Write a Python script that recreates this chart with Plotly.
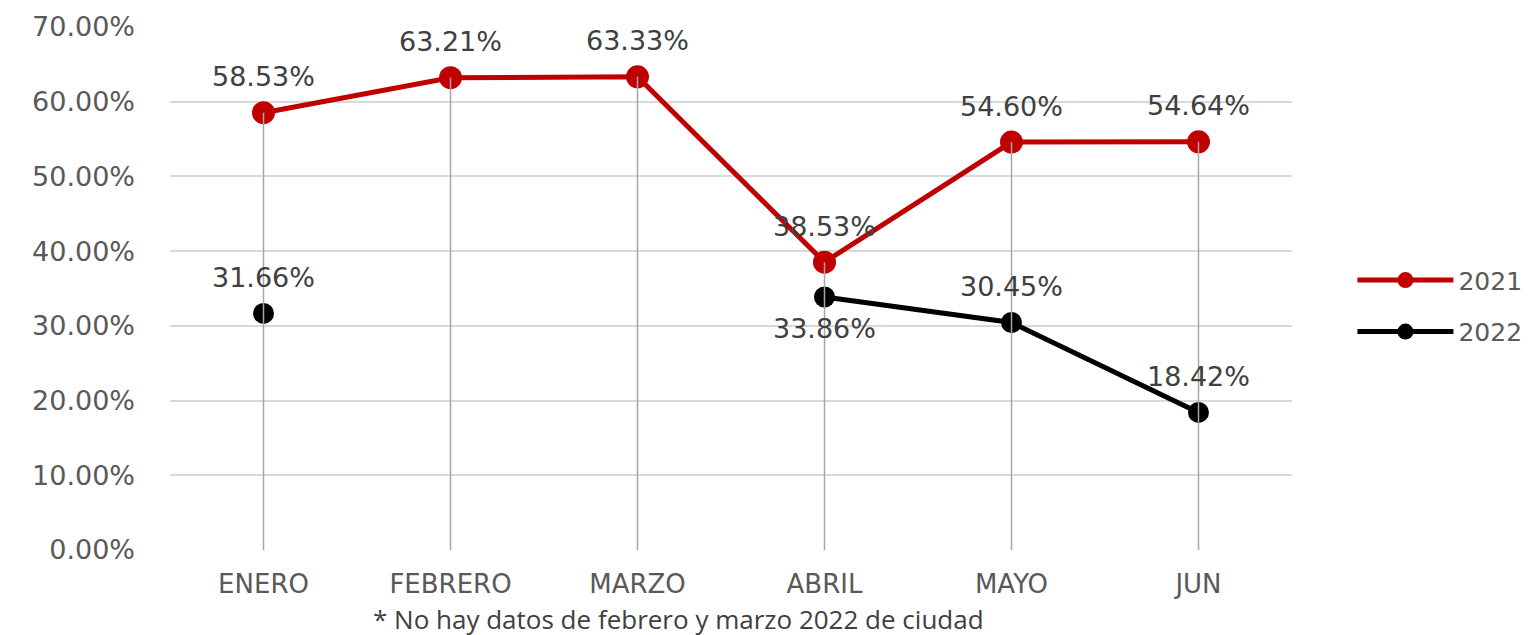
import plotly.graph_objects as go

months = ["ENERO", "FEBRERO", "MARZO", "ABRIL", "MAYO", "JUN"]
values_2021 = [0.5853, 0.6321, 0.6333, 0.3853, 0.5460, 0.5464]
values_2022 = [0.3166, None, None, 0.3386, 0.3045, 0.1842]
label_side_2022 = ["above", None, None, "below", "above", "above"]
footnote = "* No hay datos de febrero y marzo 2022 de ciudad"

RED = "#C00000"
BLACK = "#000000"
GRAY_TXT = "#595959"
FONT = "DejaVu Sans"
FS = 27

fig = go.Figure()

fig.add_trace(go.Scatter(
    x=months, y=values_2021, name="2021", mode="lines+markers",
    line=dict(color=RED, width=5), marker=dict(color=RED, size=23),
    legendgroup="a", hoverinfo="skip"))
fig.add_trace(go.Scatter(
    x=months, y=values_2022, name="2022", mode="lines+markers",
    line=dict(color=BLACK, width=5), marker=dict(color=BLACK, size=21),
    connectgaps=False, legendgroup="b", hoverinfo="skip"))

# drop lines from highest point to the axis
dx, dy = [], []
for m, a, b in zip(months, values_2021, values_2022):
    top = max(v for v in (a, b) if v is not None)
    dx += [m, m, None]
    dy += [0, top, None]
fig.add_trace(go.Scatter(x=dx, y=dy, mode="lines", showlegend=False,
                         line=dict(color="#A6A6A6", width=1.5), hoverinfo="skip"))

annotations = []
for m, v in zip(months, values_2021):
    annotations.append(dict(x=m, y=v, text=f"{v*100:.2f}%", showarrow=False,
                            yshift=36, font=dict(family=FONT, size=FS, color="#404040")))
for m, v, side in zip(months, values_2022, label_side_2022):
    if v is None:
        continue
    annotations.append(dict(x=m, y=v, text=f"{v*100:.2f}%", showarrow=False,
                            yshift=36 if side == "above" else -31,
                            font=dict(family=FONT, size=FS, color="#404040")))
annotations.append(dict(xref="paper", yref="paper", x=0.453, y=-0.131,
                        text=footnote, showarrow=False, xanchor="center", yanchor="middle",
                        font=dict(family="Open Sans", size=26, color="#404040")))

fig.update_layout(
    width=1540, height=635,
    margin=dict(l=162, r=256, t=19, b=93),
    plot_bgcolor="white", paper_bgcolor="white",
    font=dict(family=FONT, size=FS, color=GRAY_TXT),
    annotations=annotations,
    legend=dict(xref="container", yref="container", x=0.873, y=0.531,
                xanchor="left", yanchor="middle",
                font=dict(family=FONT, size=25, color=GRAY_TXT),
                traceorder="grouped", tracegroupgap=16, itemwidth=96,
                bgcolor="rgba(0,0,0,0)"),
    xaxis=dict(range=[-0.5, 5.5], showgrid=False, showline=False, ticks="",
               tickfont=dict(family=FONT, size=FS - 1, color=GRAY_TXT),
               ticklabelstandoff=16, zeroline=False, automargin=False),
    yaxis=dict(range=[0, 0.70], dtick=0.10, tickformat=".2%", showgrid=True,
               gridcolor="#D9D9D9", gridwidth=1.5, zeroline=False, showline=False,
               ticks="", tickfont=dict(family=FONT, size=FS, color=GRAY_TXT),
               ticklabelstandoff=34, automargin=False),
)

fig.write_html("out.html")
